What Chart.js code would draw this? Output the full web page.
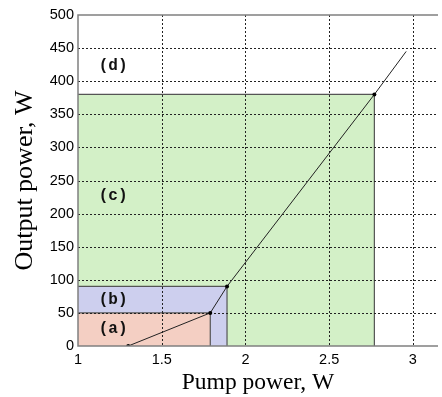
<!DOCTYPE html>
<html>
<head>
<meta charset="utf-8">
<script src="https://cdn.jsdelivr.net/npm/chart.js@4"></script>
<style>
  html, body { margin: 0; padding: 0; background: #fff; }
  #wrap { width: 442px; height: 397px; }
</style>
</head>
<body>
<div id="wrap"><canvas id="chart-pump"></canvas></div>
<script>
  // ── Slope curve: output vs. pump power ────────────────────────────────────
  const pumpPower   = [1.30, 1.79, 1.89, 2.77, 2.96];
  const outputPower = [0, 50, 90, 380, 445];
  const pointSizes  = [2, 2, 2, 2, 0];

  // ── Operating regions (a), (b), (c) as boxes from the axis origin ─────────
  const regionPump   = [1.79, 1.89, 2.77];
  const regionOutput = [50, 90, 380];
  const regionFill   = ["#f4cfc3", "#cdcfee", "#d3f0c7"];

  // ── Region tags ───────────────────────────────────────────────────────────
  const tagText = ["(a)", "(b)", "(c)", "(d)"];
  const tagX    = [1.21, 1.21, 1.21, 1.21];
  const tagY    = [25, 70, 226, 423];

  const xTicks = [1, 1.5, 2, 2.5, 3];
  const yTicks = [0, 50, 100, 150, 200, 250, 300, 350, 400, 450, 500];

  const INK  = "#000";
  const EDGE = "#555";
  const FRAME = "#808080";

  function box(i) {
    return [
      { x: 1, y: regionOutput[i] },
      { x: regionPump[i], y: regionOutput[i] },
      { x: regionPump[i], y: 0 },
    ];
  }

  // dotted grid drawn over the filled boxes, frame + tags on top
  const overlay = {
    id: "overlay",
    afterDatasetDraw(chart, args) {
      if (args.index !== 1) return;
      const { ctx, chartArea: a, scales: { x, y } } = chart;
      ctx.save();
      ctx.strokeStyle = "#222";
      ctx.lineWidth = 1;
      ctx.setLineDash([2, 2]);
      xTicks.slice(1).forEach(v => {
        const px = Math.round(x.getPixelForValue(v)) + 0.5;
        ctx.beginPath(); ctx.moveTo(px, a.top); ctx.lineTo(px, a.bottom); ctx.stroke();
      });
      yTicks.slice(1, -1).forEach(v => {
        const py = Math.round(y.getPixelForValue(v)) + 0.5;
        ctx.beginPath(); ctx.moveTo(a.left, py); ctx.lineTo(a.right, py); ctx.stroke();
      });
      ctx.restore();
    },
    afterDatasetsDraw(chart) {
      const { ctx, chartArea: a, scales: { x, y } } = chart;
      ctx.save();
      ctx.strokeStyle = FRAME;
      ctx.lineWidth = 1.5;
      ctx.beginPath();
      ctx.moveTo(a.right, a.top);
      ctx.lineTo(a.left, a.top);
      ctx.lineTo(a.left, a.bottom);
      ctx.lineTo(a.right, a.bottom);
      ctx.stroke();

      ctx.fillStyle = "#111";
      ctx.font = "bold 16px 'Liberation Mono', 'DejaVu Sans Mono', monospace";
      ctx.textAlign = "center";
      ctx.textBaseline = "middle";
      tagText.forEach((t, i) => {
        ctx.fillText(t, x.getPixelForValue(tagX[i]), y.getPixelForValue(tagY[i]));
      });
      ctx.restore();
    },
  };

  const regionSets = regionPump.map((_, i) => ({
    data: box(i),
    showLine: true,
    borderColor: EDGE,
    borderWidth: 1.2,
    backgroundColor: regionFill[i],
    fill: "origin",
    pointRadius: 0,
    tension: 0,
  }));

  new Chart(document.getElementById("chart-pump"), {
    type: "scatter",
    data: {
      datasets: [
        {
          data: pumpPower.map((p, i) => ({ x: p, y: outputPower[i] })),
          showLine: true,
          borderColor: "#222",
          borderWidth: 1,
          pointRadius: pointSizes,
          pointBackgroundColor: "#000",
          pointBorderWidth: 0,
          fill: false,
        },
        ...regionSets,
      ],
    },
    options: {
      responsive: true,
      maintainAspectRatio: false,
      animation: false,
      events: [],
      layout: { padding: { top: 15, right: 0, left: 0, bottom: 0 } },
      plugins: { legend: { display: false }, tooltip: { enabled: false } },
      scales: {
        x: {
          type: "linear",
          min: 1,
          max: 3.15,
          afterBuildTicks: (s) => { s.ticks = xTicks.map(v => ({ value: v })); },
          afterFit: (s) => { s.height = 51; },
          grid: { display: false, drawTicks: false },
          border: { display: false },
          ticks: {
            color: INK,
            padding: 5,
            font: { family: "'Liberation Sans', Arial, sans-serif", size: 14.5 },
            callback: (v) => String(v),
          },
          title: {
            display: true,
            text: "Pump power, W",
            color: INK,
            padding: { top: 0, bottom: 2 },
            font: { family: "'Liberation Serif', 'Times New Roman', serif", size: 23.5, lineHeight: 1 },
          },
        },
        y: {
          type: "linear",
          min: 0,
          max: 500,
          afterBuildTicks: (s) => { s.ticks = yTicks.map(v => ({ value: v })); },
          afterFit: (s) => { s.width = 78; },
          grid: { display: false, drawTicks: false },
          border: { display: false },
          ticks: {
            color: INK,
            padding: 4,
            font: { family: "'Liberation Sans', Arial, sans-serif", size: 14.5 },
          },
          title: {
            display: true,
            text: "Output power, W",
            color: INK,
            padding: { top: 10, bottom: 4 },
            font: { family: "'Liberation Serif', 'Times New Roman', serif", size: 26 },
          },
        },
      },
    },
    plugins: [overlay],
  });
</script>
</body>
</html>
